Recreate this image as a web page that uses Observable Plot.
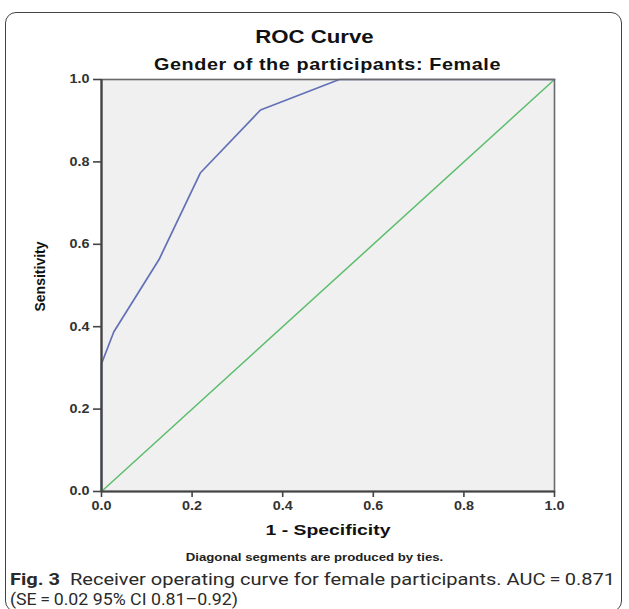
<!DOCTYPE html>
<html>
<head>
<meta charset="utf-8">
<script src="https://cdn.jsdelivr.net/npm/d3@7"></script>
<script src="https://cdn.jsdelivr.net/npm/@observablehq/plot@0.6"></script>
<style>
  html, body { margin: 0; padding: 0; background: #fff; }
  body { width: 629px; height: 609px; position: relative; overflow: hidden; font-family: "Liberation Sans", Arimo, Arial, Helvetica, sans-serif; }
  #card { position: absolute; left: 5px; top: 12px; width: 617px; height: 600px; border: 1.3px solid #444; border-radius: 11px; box-sizing: border-box; }
  .stretch { transform: scaleX(1.2); transform-origin: 50% 50%; }
  #title { position: absolute; left: 0; width: 629px; top: 26px; text-align: center; font-weight: bold; font-size: 18.5px; line-height: 22px; color: #111; }
  #subtitle { position: absolute; left: 101px; width: 453px; top: 55px; text-align: center; font-weight: bold; font-size: 16.5px; line-height: 18px; letter-spacing: 0.5px; color: #111; }
  #chart { position: absolute; left: 0; top: 70px; }
  #note { position: absolute; left: 0; width: 629px; top: 551px; text-align: center; font-weight: bold; font-size: 11px; line-height: 13px; color: #222; }
  .cap { position: absolute; left: 10px; font-family: Roboto, "Liberation Sans", sans-serif; font-size: 16.6px; line-height: 19.5px; color: #2a2a2a; white-space: nowrap; transform-origin: 0 50%; }
  .cap b { font-weight: bold; }
</style>
</head>
<body>
<div id="card"></div>
<div id="title" class="stretch">ROC Curve</div>
<div id="subtitle" class="stretch">Gender of the participants: Female</div>
<div id="chart"></div>
<div id="note" class="stretch">Diagonal segments are produced by ties.</div>
<div class="cap" id="cap1" style="top:570px"><b>Fig. 3</b>&nbsp; Receiver operating curve for female participants. AUC&#8201;=&#8201;0.871</div>
<div class="cap" id="cap2" style="top:589.5px">(SE&#8201;=&#8201;0.02 95% CI 0.81–0.92)</div>
<script>
// ROC curve points (1 - specificity, sensitivity)
const fpr = [0, 0, 0.027, 0.127, 0.218, 0.351, 0.525, 1.0];
const tpr = [0, 0.31, 0.387, 0.563, 0.773, 0.926, 1.0, 1.0];
// reference diagonal
const diagX = [0, 1];
const diagY = [0, 1];
// tick labels
const xTicks = [0, 0.2, 0.4, 0.6, 0.8, 1.0];
const yTicks = [0, 0.2, 0.4, 0.6, 0.8, 1.0];

const roc = fpr.map((x, i) => ({x, y: tpr[i]}));
const diag = diagX.map((x, i) => ({x, y: diagY[i]}));

const chart = Plot.plot({
  width: 629,
  height: 470,
  marginLeft: 101,
  marginRight: 75,
  marginTop: 9,
  marginBottom: 49,
  style: { fontFamily: "'Liberation Sans', Arimo, Arial, sans-serif", fontSize: "12px", color: "#222", background: "transparent" },
  x: { domain: [0, 1] },
  y: { domain: [0, 1] },
  marks: [
    Plot.frame({ fill: "#f0f0f0", stroke: "none" }),
    Plot.line(diag, { x: "x", y: "y", stroke: "#5dbd6c", strokeWidth: 1.5 }),
    Plot.line(roc, { x: "x", y: "y", stroke: "#6270b6", strokeWidth: 1.7 }),
    Plot.frame({ stroke: "#6a6a6a", strokeWidth: 1.6 }),
    Plot.ruleX([0], { stroke: "#444", strokeWidth: 2.2 }),
    Plot.ruleY([0], { stroke: "#444", strokeWidth: 2.2 }),
    Plot.axisX({ ticks: xTicks, tickFormat: d3.format(".1f"), tickSize: 6, tickPadding: 4, stroke: "#444", strokeWidth: 1.6, fontWeight: "bold", fontSize: 12, fill: "#333",
      label: "1 - Specificity", labelAnchor: "center", labelArrow: "none", labelOffset: 43 }),
    Plot.axisY({ ticks: yTicks, tickFormat: d3.format(".1f"), tickSize: 8, tickPadding: 4, stroke: "#444", strokeWidth: 1.6, fontWeight: "bold", fontSize: 12, fill: "#333",
      label: "Sensitivity", labelAnchor: "center", labelArrow: "none", labelOffset: 66 })
  ]
});
document.getElementById("chart").appendChild(chart);
chart.querySelectorAll('[aria-label="x-axis label"] text').forEach(t => {
  t.style.fontSize = "15.5px"; t.style.fontWeight = "bold"; t.style.fill = "#111";
});
chart.querySelectorAll('[aria-label="y-axis label"] text').forEach(t => {
  t.style.fontSize = "14px"; t.style.fontWeight = "bold"; t.style.fill = "#111";
  t.setAttribute("dx", "9");
});
// horizontal stretch of horizontal texts (the source image is widened)
function stretch(t, s) {
  const tr = t.getAttribute("transform");
  if (tr && tr.includes("translate")) {
    t.setAttribute("transform", tr + ` scale(${s},1)`);
  } else {
    const x = +(t.getAttribute("x") || 0), y = +(t.getAttribute("y") || 0);
    t.setAttribute("transform", `translate(${x},${y}) scale(${s},1) translate(${-x},${-y})`);
  }
}
chart.querySelectorAll('[aria-label="x-axis tick label"] text, [aria-label="y-axis tick label"] text').forEach(t => stretch(t, 1.2));
chart.querySelectorAll('[aria-label="x-axis label"] text').forEach(t => stretch(t, 1.25));
// fit the caption lines to their widths in the figure by a horizontal scale
function fitScale(el, target) {
  const w = el.getBoundingClientRect().width;
  el.style.transform = `scaleX(${target / w})`;
}
fitScale(document.getElementById("cap1"), 605);
fitScale(document.getElementById("cap2"), 228);
</script>
</body>
</html>
